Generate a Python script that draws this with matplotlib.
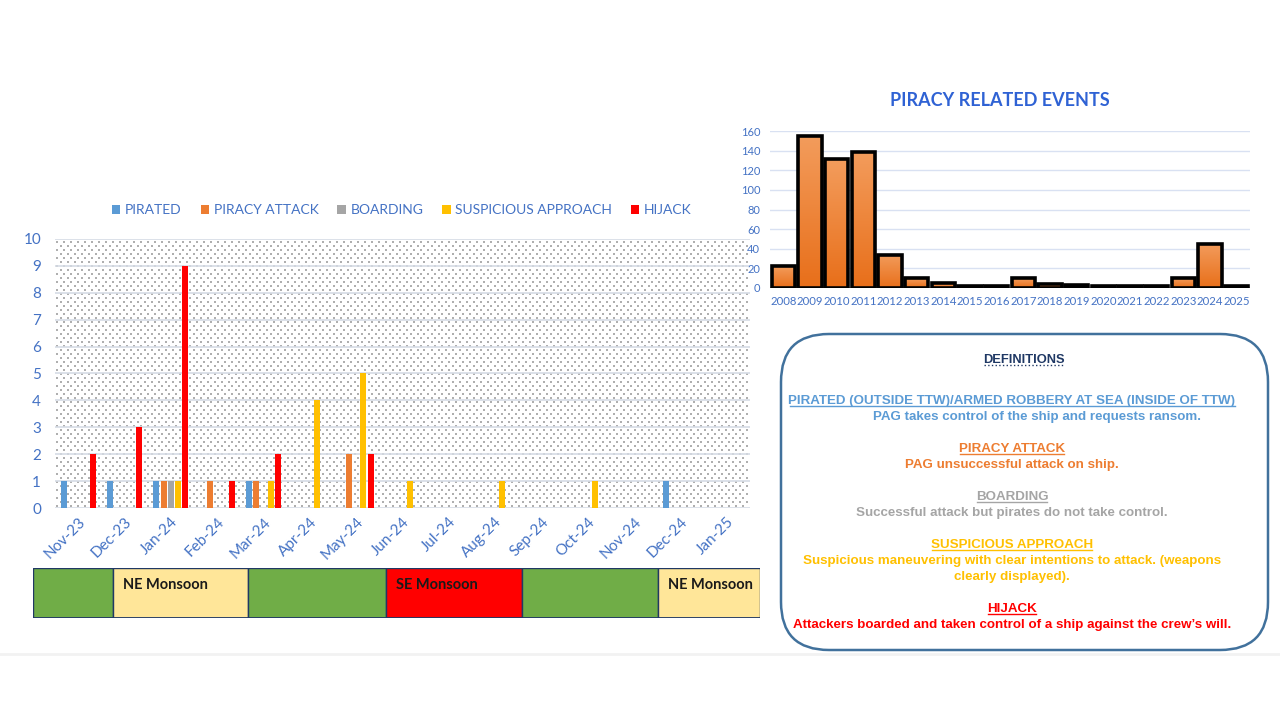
import matplotlib
matplotlib.use('Agg')
import matplotlib.pyplot as plt
import numpy as np
from matplotlib.patches import FancyBboxPatch
from matplotlib.lines import Line2D
from matplotlib.colors import LinearSegmentedColormap

# ---------------- data ----------------
months = ['Nov-23', 'Dec-23', 'Jan-24', 'Feb-24', 'Mar-24', 'Apr-24', 'May-24',
          'Jun-24', 'Jul-24', 'Aug-24', 'Sep-24', 'Oct-24', 'Nov-24', 'Dec-24', 'Jan-25']
pirated = [1, 1, 1, 0, 1, 0, 0, 0, 0, 0, 0, 0, 0, 1, 0]
piracy_attack = [0, 0, 1, 1, 1, 0, 2, 0, 0, 0, 0, 0, 0, 0, 0]
boarding = [0, 0, 1, 0, 0, 0, 0, 0, 0, 0, 0, 0, 0, 0, 0]
suspicious = [0, 0, 1, 0, 1, 4, 5, 1, 0, 1, 0, 1, 0, 0, 0]
hijack = [2, 3, 9, 1, 2, 0, 2, 0, 0, 0, 0, 0, 0, 0, 0]
series_names = ['PIRATED', 'PIRACY ATTACK', 'BOARDING', 'SUSPICIOUS APPROACH', 'HIJACK']
series_colors = ['#5B9BD5', '#ED7D31', '#A5A5A5', '#FFC000', '#FF0000']

years = ['2008', '2009', '2010', '2011', '2012', '2013', '2014', '2015', '2016',
         '2017', '2018', '2019', '2020', '2021', '2022', '2023', '2024', '2025']
events = [22, 155, 131, 139, 34, 10, 5, 2, 2, 10, 4, 3, 2, 2, 2, 10, 45, 2]

monsoon_labels = ['', 'NE Monsoon', '', 'SE Monsoon', '', 'NE Monsoon']
monsoon_starts = [-0.975, 0.752, 3.666, 6.644, 9.58, 12.515]
monsoon_ends = [0.752, 3.666, 6.644, 9.58, 12.515, 14.72]
monsoon_colors = ['#70AD47', '#FFE699', '#70AD47', '#FF0000', '#70AD47', '#FFE699']

definitions = [
    ('PIRATED (OUTSIDE TTW)/ARMED ROBBERY AT SEA (INSIDE OF TTW)',
     ['PAG takes control of the ship and requests ransom.'], '#5B9BD5'),
    ('PIRACY ATTACK', ['PAG unsuccessful attack on ship.'], '#ED7D31'),
    ('BOARDING', ['Successful attack but pirates do not take control.'], '#A5A5A5'),
    ('SUSPICIOUS APPROACH', ['Suspicious maneuvering with clear intentions to attack. (weapons',
                             'clearly displayed).'], '#FFC000'),
    ('HIJACK', ['Attackers boarded and taken control of a ship against the crew\u2019s will.'], '#FF0000'),
]

W, H = 1280, 720
def fx(px):
    return px / W
def fy(py):
    return 1 - py / H

BLUE = '#4472C4'
FONT = 'Lato'
fig = plt.figure(figsize=(12.8, 7.2), dpi=100)
fig.patch.set_facecolor('white')

# ---------------- left chart ----------------
L, R, T, B = 55, 750, 239, 508
ax = fig.add_axes([fx(L), fy(B), fx(R) - fx(L), fy(T) - fy(B)])
n = len(months)
x = np.arange(n)
ax.set_xlim(-0.5, n - 0.5)
ax.set_ylim(0, 10)
# dotted background texture (staggered 5% pattern)
pts_x, pts_y = [], []
for k, yy in enumerate(np.arange(2, B - T, 4.0)):
    xs = np.arange(2 + (k % 2) * 3.5, R - L, 7.0)
    pts_x.extend(xs / (R - L))
    pts_y.extend([yy / (B - T)] * len(xs))
ax.scatter(pts_x, pts_y, s=0.6, marker='s', color='#AFAFAF', lw=0,
           transform=ax.transAxes, zorder=0)
for yv in range(0, 11):
    ax.axhline(yv, color='#D6DCE5', lw=1.2, zorder=1)
all_series = [pirated, piracy_attack, boarding, suspicious, hijack]
bw = 0.13
step = 0.157
for i, (vals, name, col) in enumerate(zip(all_series, series_names, series_colors)):
    ax.bar(x + (i - 2) * step, vals, width=bw, color=col, label=name, zorder=3)
for s in ax.spines.values():
    s.set_visible(False)
ax.set_yticks(range(0, 11))
ax.set_yticklabels([str(v) for v in range(0, 11)], family=FONT)
ax.tick_params(axis='y', length=0, labelsize=11, labelcolor=BLUE, pad=10)
ax.set_xticks(x)
ax.set_xticklabels(months, rotation=45, ha='right', rotation_mode='anchor', family=FONT)
ax.tick_params(axis='x', length=0, labelsize=11, labelcolor=BLUE, pad=5)
leg = fig.legend(*ax.get_legend_handles_labels(), loc='center', bbox_to_anchor=(fx(402), fy(210)),
                 ncol=5, frameon=False, prop={'family': FONT, 'size': 10}, handlelength=0.6,
                 handleheight=0.6, handletextpad=0.35, columnspacing=1.35)
for t in leg.get_texts():
    t.set_color(BLUE)

# ---------------- monsoon strip ----------------
axm = fig.add_axes([fx(33), fy(618), fx(760) - fx(33), fy(568) - fy(618)])
axm.set_xlim(monsoon_starts[0], monsoon_ends[-1])
axm.set_ylim(0, 1)
for st, en, col, lab in zip(monsoon_starts, monsoon_ends, monsoon_colors, monsoon_labels):
    axm.add_patch(plt.Rectangle((st, 0), en - st, 1, facecolor=col, edgecolor='#203864', lw=1.0))
    if lab:
        axm.text(st + 0.22, 0.66, lab, fontsize=10.5, fontweight='bold', color='#1A1A1A',
                 ha='left', va='center', family=FONT)
axm.axhline(0, color='#203864', lw=2)
axm.axis('off')

# ---------------- right chart ----------------
axr = fig.add_axes([fx(770), fy(288), fx(1250) - fx(770), fy(131) - fy(288)])
xr = np.arange(len(years))
axr.set_xlim(-0.5, len(years) - 0.5)
axr.set_ylim(0, 160)
for yv in range(20, 161, 20):
    axr.axhline(yv, color='#D9E1F2', lw=1.0, zorder=0)
axr.axhline(0, color='#BFBFBF', lw=1.5, zorder=1)
bars = axr.bar(xr, events, width=0.87, color='#EE8030', edgecolor='black', lw=2.6, zorder=2)
cmap = LinearSegmentedColormap.from_list('og', ['#E86F1A', '#F39C5C'])
grad = np.linspace(0, 1, 64).reshape(-1, 1)
for b in bars:
    bx, by = b.get_x(), b.get_y()
    bwid, bh = b.get_width(), b.get_height()
    if bh <= 0:
        continue
    im = axr.imshow(grad, cmap=cmap, aspect='auto', origin='lower',
                    extent=(bx, bx + bwid, by, by + bh), zorder=2.5)
    im.set_clip_path(b)
    b.set_facecolor('none')
    b.set_zorder(3)
axr.set_xlim(-0.5, len(years) - 0.5)
axr.set_ylim(0, 160)
for s in axr.spines.values():
    s.set_visible(False)
axr.set_yticks(range(0, 161, 20))
axr.set_yticklabels([str(v) for v in range(0, 161, 20)], family=FONT)
axr.tick_params(axis='y', length=0, labelsize=8, labelcolor=BLUE, pad=7)
axr.set_xticks(xr)
axr.set_xticklabels(years, family=FONT)
axr.tick_params(axis='x', length=0, labelsize=8.2, labelcolor=BLUE, pad=6)
fig.text(fx(1000), fy(101), 'PIRACY RELATED EVENTS', fontsize=13, fontweight='bold',
         color='#2F62D4', ha='center', va='center', family=FONT)

# ---------------- definitions box ----------------
box = FancyBboxPatch((fx(781), fy(650)), fx(1268) - fx(781), fy(334) - fy(650),
                     boxstyle='round,pad=0,rounding_size=0.06', transform=fig.transFigure,
                     facecolor='white', edgecolor='#41719C', lw=1.8)
box.set_boxstyle('round', pad=0, rounding_size=fx(48))
box.set_mutation_aspect(1280 / 720)
fig.add_artist(box)

DFONT = 'Liberation Sans'
DSIZE = 9.6
underlines = []
t = fig.text(fx(1024), fy(360), 'DEFINITIONS', fontsize=9.3, fontweight='bold', color='#1F3864',
             ha='center', va='center', family=DFONT)
underlines.append((t, '#1F3864', ':'))
heading_y = [401, 449, 497, 545, 609]
for (head, lines, col), hy in zip(definitions, heading_y):
    t = fig.text(fx(1012), fy(hy), head, fontsize=DSIZE, fontweight='bold', color=col,
                 ha='center', va='center', family=DFONT)
    underlines.append((t, col, '-'))
    for k, ln in enumerate(lines):
        xc = 1037 if head.startswith('PIRATED') else 1012
        fig.text(fx(xc), fy(hy + 16 * (k + 1)), ln, fontsize=DSIZE, fontweight='bold', color=col,
                 ha='center', va='center', family=DFONT)

fig.canvas.draw()
r = fig.canvas.get_renderer()
for t, col, ls in underlines:
    bb = t.get_window_extent(r)
    yy = (bb.y0 + 1.5) / H
    fig.add_artist(Line2D([(bb.x0 + 1) / W, (bb.x1 - 1) / W], [yy, yy], transform=fig.transFigure,
                          color=col, lw=1.0, ls=ls))

fig.add_artist(Line2D([0, 1], [fy(654), fy(654)], transform=fig.transFigure, color='#F2F2F2', lw=2))

fig.savefig('out.png', dpi=100, facecolor='white')
